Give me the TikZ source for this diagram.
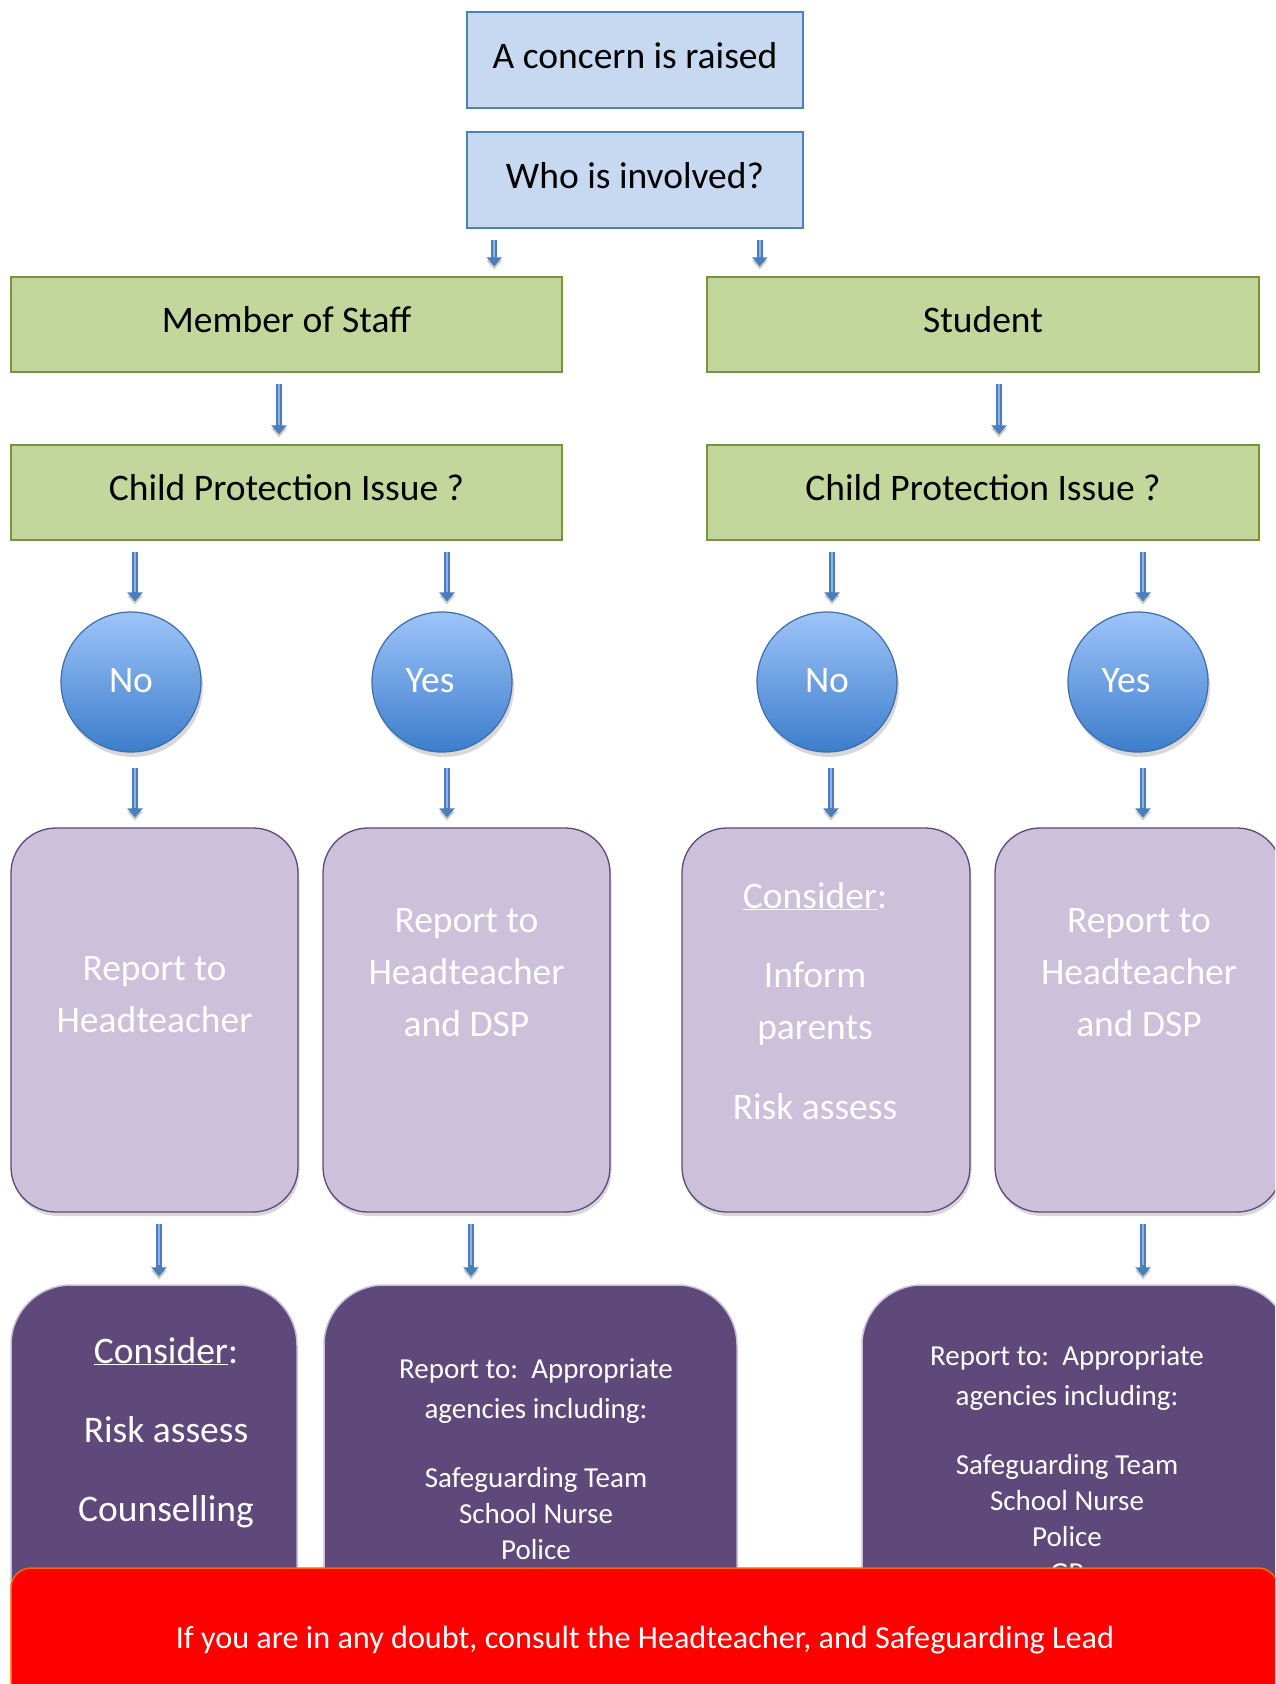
\documentclass[tikz,border=0pt]{standalone}
\usepackage{fontspec}
\setmainfont{Carlito}
\usetikzlibrary{arrows.meta,shadows}
\definecolor{boxblue}{RGB}{198,217,241}
\definecolor{lineblue}{RGB}{79,129,189}
\definecolor{boxgreen}{RGB}{195,214,155}
\definecolor{linegreen}{RGB}{119,147,60}
\definecolor{lilac}{RGB}{204,192,218}
\definecolor{plum}{RGB}{95,73,122}
\definecolor{plumline}{RGB}{200,190,215}
\definecolor{circtop}{RGB}{158,196,249}
\definecolor{circbot}{RGB}{60,125,203}
\definecolor{circline}{RGB}{60,110,170}
\definecolor{arrowblue}{RGB}{74,126,187}
\definecolor{arrowlight}{RGB}{140,180,230}
\definecolor{bannerred}{RGB}{255,0,0}
\definecolor{bannerline}{RGB}{255,102,0}
\newcommand\fsbig{\fontsize{37.5}{52}\selectfont}
\newcommand\fsmid{\fontsize{29}{36}\selectfont}
\newcommand\fsban{\fontsize{32.2}{40}\selectfont}
\newcommand\txtlines[1]{\begin{tabular}[t]{@{}c@{}}#1\end{tabular}}
\tikzset{
  bluebox/.style={rectangle, fill=boxblue, draw=lineblue, line width=1.5pt,
    minimum width=336pt, minimum height=96pt, inner sep=0pt, font=\fsbig,
    text height=24pt, text depth=8pt},
  greenbox/.style={rectangle, fill=boxgreen, draw=linegreen, line width=1.5pt,
    minimum width=551pt, minimum height=95pt, inner sep=0pt, font=\fsbig,
    text height=24pt, text depth=8pt},
  yesno/.style={circle, minimum size=140pt, inner sep=0pt,
    top color=circtop, bottom color=circbot, draw=circline, line width=1.2pt,
    text=white, font=\fsbig, text height=26pt, text depth=6pt,
    drop shadow={shadow xshift=2pt, shadow yshift=-5pt, opacity=0.3}},
  lightbox/.style={rectangle, rounded corners=45pt, fill=lilac, draw=plum,
    line width=1.3pt, minimum width=287pt, minimum height=384pt, inner sep=0pt,
    drop shadow={shadow xshift=1.5pt, shadow yshift=-4pt, opacity=0.3}},
  darkbox/.style={rectangle, rounded corners=60pt, fill=plum, draw=plumline,
    line width=1.5pt, minimum height=435pt, inner sep=0pt},
  banner/.style={rectangle, rounded corners=20pt, fill=bannerred, draw=bannerline,
    line width=1.5pt, minimum width=1267pt, minimum height=142pt, inner sep=0pt},
  wtext/.style={inner sep=0pt, anchor=base, text=white, font=\fsbig},
  wtextsm/.style={inner sep=0pt, anchor=base, text=white, font=\fsmid},
  bantext/.style={inner sep=0pt, anchor=base, text=white, font=\fsban},
  flow/.style={draw=arrowblue, line width=6pt,
    -{Triangle[length=9pt,width=15pt]}, shorten <=11pt, shorten >=10pt,
    preaction={draw=black!22, transform canvas={yshift=-3pt}},
    postaction={draw=arrowlight, line width=2pt, arrows=-, shorten >=19pt}}
}
\begin{document}
\begin{tikzpicture}[x=1pt,y=-1pt]
\clip (0,0) rectangle (1275,1684);
\fill[white] (0,0) rectangle (1275,1684);

% top
\node[bluebox] (concern) at (635,60) {A concern is raised};
\node[bluebox] (who) at (635,180) {Who is involved?};

% green
\node[greenbox] (staff) at (286.5,324.5) {Member of Staff};
\node[greenbox, minimum width=552pt] (student) at (983,324.5) {Student};
\node[greenbox] (cpL) at (286.5,492.5) {Child Protection Issue ?};
\node[greenbox, minimum width=552pt] (cpR) at (983,492.5) {Child Protection Issue ?};

% circles
\node[yesno] (noL) at (131,682) {No};
\node[yesno] (yesL) at (442,682) {Yes\hspace*{24pt}};
\node[yesno] (noR) at (827,682) {No};
\node[yesno] (yesR) at (1138,682) {Yes\hspace*{24pt}};

% light boxes
\node[lightbox] (r1) at (154.5,1020) {};
\node[lightbox] (r2) at (466.5,1020) {};
\node[lightbox, minimum width=288pt] (r3) at (826,1020) {};
\node[lightbox] (r4) at (1138.5,1020) {};

\node[wtext] (t1) at (154.5,980) {\txtlines{Report to\\Headteacher}};
\node[wtext] (t2) at (466.5,932) {\txtlines{Report to\\Headteacher\\and DSP}};
\node[wtext] (t3) at (815,908) {\txtlines{\underline{Consider}:\\[27pt]Inform\\parents\\[28pt]Risk assess}};
\node[wtext] (t4) at (1139,932) {\txtlines{Report to\\Headteacher\\and DSP}};

% dark boxes
\node[darkbox, minimum width=286pt] (d1) at (154,1502.5) {};
\node[darkbox, minimum width=413pt] (d2) at (530.5,1502.5) {};
\node[darkbox, minimum width=428pt] (d3) at (1076,1502.5) {};

\node[wtext] (u1) at (166,1363) {\txtlines{\underline{Consider}:\\[27pt]Risk assess\\[27pt]Counselling}};
\node[wtextsm] (u2) at (536,1378) {\txtlines{Report to:\ \ Appropriate\\[4pt]agencies including:\\[33pt]Safeguarding Team\\School Nurse\\Police}};
\node[wtextsm] (u3) at (1067,1365) {\txtlines{Report to:\ \ Appropriate\\[4pt]agencies including:\\[33pt]Safeguarding Team\\School Nurse\\Police\\GP}};

% arrows
\draw[flow] ([xshift=28pt]who.south west) -- ([xshift=28pt]who.south west |- staff.north);
\draw[flow] ([xshift=-44pt]who.south east) -- ([xshift=-44pt]who.south east |- student.north);
\draw[flow] ([xshift=-7.5pt]staff.south) -- ([xshift=-7.5pt]cpL.north);
\draw[flow] ([xshift=16pt]student.south) -- ([xshift=16pt]cpR.north);
\draw[flow] ([xshift=4pt]noL.north |- cpL.south) -- ([xshift=4pt]noL.north);
\draw[flow] ([xshift=5pt]yesL.north |- cpL.south) -- ([xshift=5pt]yesL.north);
\draw[flow] ([xshift=5pt]noR.north |- cpR.south) -- ([xshift=5pt]noR.north);
\draw[flow] ([xshift=5pt]yesR.north |- cpR.south) -- ([xshift=5pt]yesR.north);
\draw[flow, shorten <=15pt] ([xshift=4pt]noL.south) -- ([xshift=4pt]noL.south |- r1.north);
\draw[flow, shorten <=15pt] ([xshift=5pt]yesL.south) -- ([xshift=5pt]yesL.south |- r2.north);
\draw[flow, shorten <=15pt] ([xshift=4pt]noR.south) -- ([xshift=4pt]noR.south |- r3.north);
\draw[flow, shorten <=15pt] ([xshift=5pt]yesR.south) -- ([xshift=5pt]yesR.south |- r4.north);
\draw[flow, shorten >=8pt] ([xshift=4.5pt]r1.south) -- ([xshift=4.5pt]r1.south |- d1.north);
\draw[flow, shorten >=8pt] ([xshift=4.5pt]r2.south) -- ([xshift=4.5pt]r2.south |- d2.north);
\draw[flow, shorten >=8pt] ([xshift=4.5pt]r4.south) -- ([xshift=4.5pt]r4.south |- d3.north);

% banner
\node[banner] (ban) at (644.5,1639) {};
\node[bantext] (bt) at (645,1648) {If you are in any doubt, consult the Headteacher, and Safeguarding Lead};
\end{tikzpicture}
\end{document}
